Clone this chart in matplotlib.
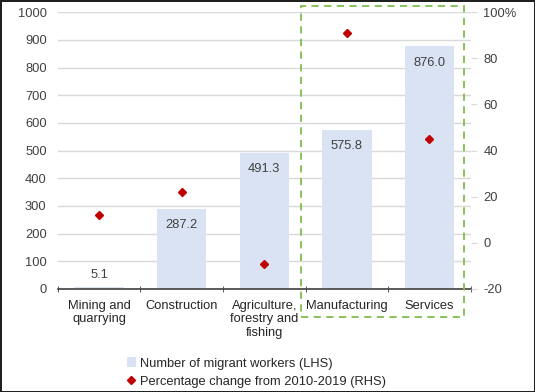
import matplotlib.pyplot as plt
from matplotlib.patches import Rectangle
from matplotlib.lines import Line2D
from matplotlib.patches import Patch

plt.rcParams['font.family'] = ['Liberation Sans', 'DejaVu Sans']

categories = ['Mining and\nquarrying', 'Construction', 'Agriculture,\nforestry and\nfishing',
              'Manufacturing', 'Services']
workers = [5.1, 287.2, 491.3, 575.8, 876.0]
pct_change = [12.0, 22.0, -9.0, 91.0, 45.0]

bar_color = '#DAE3F3'
dot_color = '#C00000'
txt_color = '#404040'

fig = plt.figure(figsize=(5.35, 3.92), dpi=100)
fig.patch.set_edgecolor('#202020')
fig.patch.set_linewidth(2)
ax = fig.add_axes([0.108, 0.263, 0.772, 0.706])

x = list(range(len(categories)))
ax.bar(x, workers, width=0.6, color=bar_color, zorder=2)
for xi, v in zip(x, workers):
    ax.text(xi, max(v - 58, 50), f'{v:.1f}', ha='center', va='center',
            fontsize=9.3, color=txt_color, zorder=4)

ax.set_ylim(0, 1000)
ax.set_xlim(-0.5, 4.5)
ax.set_yticks(range(0, 1001, 100))
ax.grid(axis='y', color='#D9D9D9', linewidth=1, zorder=0)
ax.set_axisbelow(True)
for s in ['top', 'right', 'left']:
    ax.spines[s].set_visible(False)
ax.spines['bottom'].set_color('#404040')
ax.spines['bottom'].set_linewidth(1.2)
ax.tick_params(axis='y', length=0, labelsize=9.3, labelcolor=txt_color, pad=8)
ax.set_xticks(x)
ax.set_xticklabels(categories, fontsize=9.3, color='#262626', linespacing=1.15)
ax.tick_params(axis='x', length=0, pad=8)
ax.set_xticks([i - 0.5 for i in range(len(categories) + 1)], minor=True)
ax.tick_params(axis='x', which='minor', length=4, direction='inout', color='#404040')

ax2 = ax.twinx()
ax2.plot(x, pct_change, linestyle='none', marker='D', markersize=4.5,
         color=dot_color, zorder=5)
ax2.set_ylim(-20, 100)
ax2.set_yticks(range(-20, 101, 20))
ax2.set_yticklabels(['-20', '0', '20', '40', '60', '80', '100%'])
for s in ax2.spines.values():
    s.set_visible(False)
ax2.tick_params(axis='y', length=4, color='#D9D9D9', labelsize=9.3,
                labelcolor=txt_color, pad=5)

# highlight box
box = Rectangle((2.45, -101), 1.97, 1123, transform=ax.transData, fill=False,
                edgecolor='#7DBE4E', linestyle=(0, (4, 3)), linewidth=1.3,
                clip_on=False, zorder=6)
ax.add_patch(box)

handles = [Patch(facecolor=bar_color, edgecolor='none'),
           Line2D([], [], linestyle='none', marker='D', markersize=4, color=dot_color)]
labels = ['Number of migrant workers (LHS)', 'Percentage change from 2010-2019 (RHS)']
fig.legend(handles, labels, loc='upper left', bbox_to_anchor=(0.237, 0.09),
           frameon=False, fontsize=9.3, handlelength=0.7, handleheight=0.9,
           handletextpad=0.3, labelspacing=0.4, borderaxespad=0, borderpad=0,
           labelcolor='#262626')

fig.savefig('out.png', dpi=100)
